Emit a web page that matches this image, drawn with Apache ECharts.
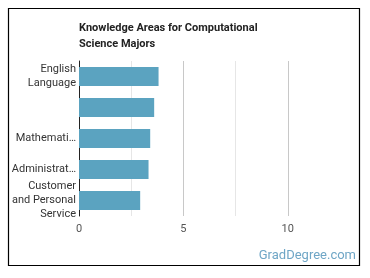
<!DOCTYPE html>
<html>
<head>
<meta charset="utf-8">
<script src="https://cdn.jsdelivr.net/npm/echarts@6/dist/echarts.min.js"></script>
<style>
    html, body { margin: 0; padding: 0; background: #fff; }
    #chart { width: 370px; height: 278px; }
</style>
</head>
<body>
<div id="chart"></div>
<script>
    // data
    var categories = ['English\nLanguage', '', 'Mathemati…', 'Administrat…', 'Customer\nand Personal\nService'];
    var values = [3.81, 3.60, 3.41, 3.33, 2.93];
    var xTicks = [0, 5, 10];

    var dom = document.getElementById('chart');
    var myChart = echarts.init(dom);
    var option = {
        animation: false,
        textStyle: { fontFamily: 'Roboto' },
        title: {
            text: 'Knowledge Areas for Computational\nScience Majors',
            left: 79,
            top: 20,
            padding: 0,
            textStyle: { fontSize: 11, fontWeight: 'bold', color: '#222', lineHeight: 16, fontFamily: 'Roboto' }
        },
        graphic: [
            {
                type: 'rect',
                shape: { x: 8.5, y: 8.5, width: 351, height: 257 },
                style: { fill: 'none', stroke: '#000', lineWidth: 1.2 }
            },
            {
                type: 'text',
                right: 14,
                top: 249,
                style: { text: 'GradDegree.com', fill: '#6fa6c6', fontSize: 13, fontFamily: 'Roboto' }
            }
        ],
        grid: { left: 79, top: 61, width: 261, height: 155, containLabel: false },
        xAxis: {
            type: 'value',
            min: 0,
            max: 12.5,
            interval: 2.5,
            axisLine: { show: false },
            axisTick: { show: false },
            axisLabel: {
                fontSize: 11,
                color: '#555',
                margin: 8,
                formatter: function (v) { return xTicks.indexOf(v) >= 0 ? String(v) : ''; }
            },
            splitLine: {
                show: true,
                showMaxLine: false,
                lineStyle: { color: ['#c8c8c8', '#e6e6e6'], width: 1 }
            }
        },
        yAxis: {
            type: 'category',
            inverse: true,
            data: categories,
            axisLine: { show: true, lineStyle: { color: '#222', width: 1 } },
            axisTick: { show: false },
            axisLabel: { fontSize: 11, color: '#333', margin: 3, lineHeight: 14, align: 'right' }
        },
        series: [{
            type: 'bar',
            data: values,
            barWidth: 19,
            itemStyle: { color: '#5ba3c0' }
        }]
    };
    myChart.setOption(option, true);
</script>
</body>
</html>
